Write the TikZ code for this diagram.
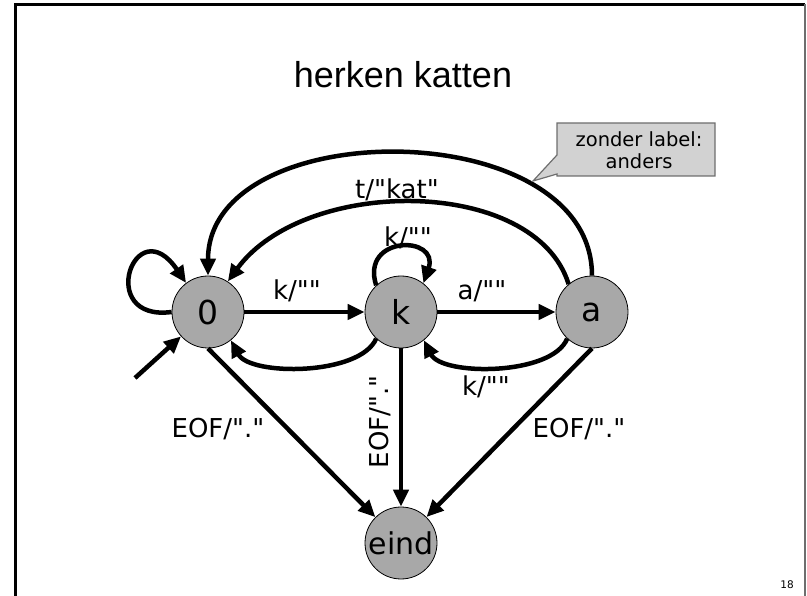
\documentclass[tikz,border=0pt]{standalone}
\usepackage{fontspec}
\setmainfont{DejaVu Sans}[Ligatures=TeXOff]
\newfontfamily\titlefont{Liberation Sans}
\usetikzlibrary{arrows.meta}
\definecolor{stategray}{RGB}{168,168,168}
\definecolor{notegray}{RGB}{210,210,210}
\definecolor{noteedge}{RGB}{110,110,110}
\tikzset{
  state/.style={circle, draw=black, line width=0.8pt, fill=stategray,
    minimum size=72pt, inner sep=0pt, font=\fontsize{33}{38}\selectfont},
  trans/.style={line width=4.5pt, -{Triangle[length=17pt,width=15pt]}},
  lbl/.style={font=\fontsize{26}{30}\selectfont, inner sep=1pt},
}
\begin{document}
\begin{tikzpicture}[x=1pt,y=-1pt]
  \useasboundingbox (0,0) rectangle (807,596);
  % Slide frame
  \draw[line width=3pt] (15.5,600) -- (15.5,4.5) -- (805,4.5);
  \draw[noteedge, line width=1.5pt] (805,4.5) -- (805,600);
  \node[font=\titlefont\fontsize{36}{42}\selectfont] (title) at (403,75) {herken katten};
  % States
  \node[state] (s0) at (208,312) {0};
  \node[state] (sk) at (401,312) {k};
  \node[state] (sa) at (592,312) {a};
  \node[state, font=\fontsize{30}{36}\selectfont] (eind) at (401,543) {eind};
  % Start arrow
  \coordinate (begin) at (135,378);
  \draw[trans] (begin) -- (s0);
  % Transitions
  \draw[trans] (s0) -- (sk);
  \draw[trans] (sk) -- (sa);
  \draw[trans] (s0.west) .. controls (95,322) and (135,208) .. (s0.127);
  \draw[trans] (sk.133) .. controls (360,235) and (440,235) .. (sk.52);
  \draw[trans] (sk.227) .. controls (360,376) and (250,376) .. (s0.309);
  \draw[trans] (sa.227) .. controls (552,376) and (442,376) .. (sk.309);
  \draw[trans] (sa.130) .. controls (535,176) and (305,176) .. (s0.57);
  \draw[trans] (sa.north) .. controls (592,113) and (208,113) .. (s0.north);
  \draw[trans] (s0.south) -- (eind);
  \draw[trans] (sk) -- (eind);
  \draw[trans] (sa.south) -- (eind);
  % Labels
  \node[lbl] (l0k) at (297,291) {k/""};
  \node[lbl] (lka) at (482,291) {a/""};
  \node[lbl] (lkk) at (408,238) {k/""};
  \node[lbl] (lak) at (486,387) {k/""};
  \node[lbl] (la0) at (397,190) {t/"kat"};
  \node[lbl] (l0e) at (218,429) {EOF/"."};
  \node[lbl, rotate=90] (lke) at (380,422) {EOF/"."};
  \node[lbl] (lae) at (579,429) {EOF/"."};
  % Note on the unlabeled arc
  \coordinate (tip) at (533,181);
  \draw[noteedge, fill=notegray, line width=1.2pt]
    (557,123) -- (715,123) -- (715,176) -- (557,176) -- (557,174) -- (tip) -- (557,155) -- cycle;
  \node[align=center, font=\fontsize{19.5}{21.5}\selectfont] (note) at (639,150) {zonder label:\\anders};
  \node[font=\fontsize{10.5}{12}\selectfont] (page) at (787,585) {18};
\end{tikzpicture}
\end{document}
